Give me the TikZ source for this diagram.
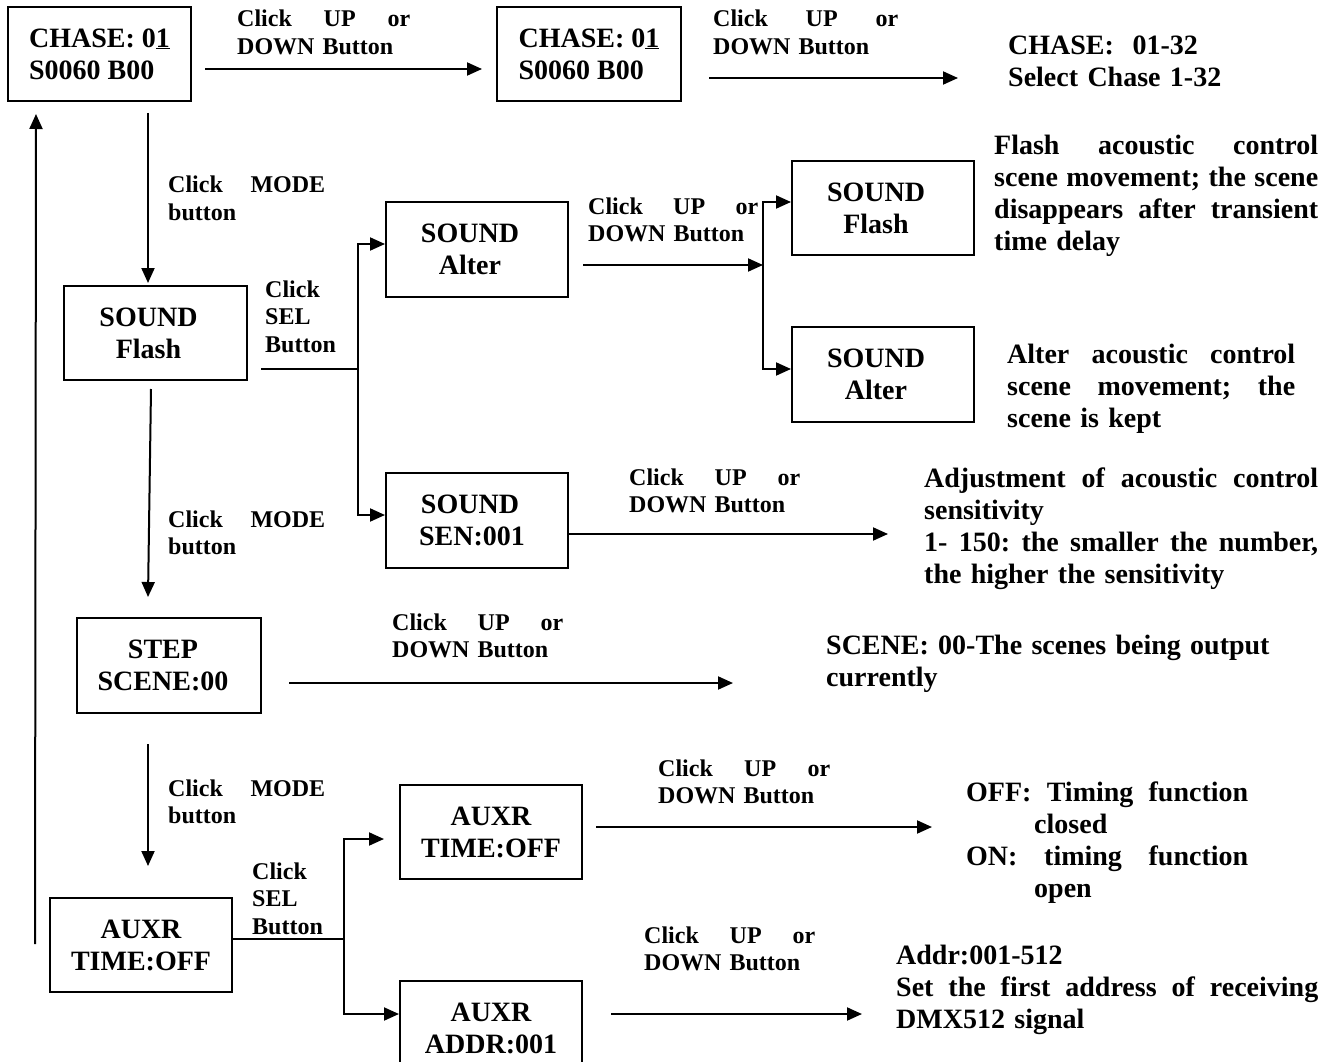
\documentclass[tikz,border=0pt]{standalone}
\usepackage{fontspec}
\setmainfont{Liberation Serif}
\usetikzlibrary{arrows.meta,calc}
\newcommand{\gap}{\nobreak\hfill\nobreak\hspace{5pt}\nobreak}
\hyphenpenalty=10000
\exhyphenpenalty=10000
\begin{document}
\begin{tikzpicture}[x=1pt,y=-1pt,
  box/.style={draw, line width=2pt, minimum width=182pt, minimum height=95pt, inner sep=0pt,
    font=\fontsize{28}{32}\selectfont\bfseries, align=center},
  lbl/.style={anchor=base west, inner sep=0pt, font=\fontsize{24}{27.5}\selectfont\bfseries, align=left},
  desc/.style={anchor=base west, inner sep=0pt, font=\fontsize{28}{32}\selectfont\bfseries, align=left},
  arr/.style={-{Triangle[length=15pt,width=13pt]}, line width=2pt},
  ln/.style={line width=2pt}]
\useasboundingbox (0,0) rectangle (1336,1062);
\clip (0,0) rectangle (1336,1062);

% boxes
\node[box, minimum width=183pt, minimum height=94pt, align=left] (c1) at (99.5,54) {CHASE:~0\underline{1}\\S0060 B00};
\node[box, minimum width=184pt, minimum height=94pt, align=left] (c2) at (589,54) {CHASE:~0\underline{1}\\S0060 B00};
\node[box, minimum width=183pt, minimum height=94pt] (sf) at (155.5,333) {SOUND\hspace*{14pt}\\Flash\hspace*{14pt}};
\node[box] (sa) at (477,249.5) {SOUND\hspace*{14pt}\\Alter\hspace*{14pt}};
\node[box, minimum height=94pt] (sf2) at (883,208) {SOUND\hspace*{14pt}\\Flash\hspace*{14pt}};
\node[box] (sa2) at (883,374.5) {SOUND\hspace*{14pt}\\Alter\hspace*{14pt}};
\node[box] (sen) at (477,520) {SOUND\hspace*{14pt}\\SEN:001\hspace*{10pt}};
\node[box, minimum width=184pt] (step) at (169,665.5) {STEP\hspace*{12pt}\\SCENE:00\hspace*{12pt}};
\node[box, minimum height=94pt] (ax1) at (141,945) {AUXR\\TIME:OFF};
\node[box, minimum height=94pt] (ax2) at (491,832) {AUXR\\TIME:OFF};
\node[box] (ad) at (491,1028.5) {AUXR\\ADDR:001};

% labels
\node[lbl, text width=173pt] (l1) at (237,27) {Click \hfill UP \hfill or\\DOWN Button};
\node[lbl, text width=185pt] (l2) at (713,27) {Click \hfill UP \hfill or\\DOWN Button};
\node[lbl, text width=157pt] (lm1) at (168,193) {Click \hfill MODE\\button};
\node[lbl, text width=90pt] (ls1) at (265,297) {Click\\SEL\\Button};
\node[lbl, text width=170pt] (lsa) at (588,214) {Click \hfill UP \hfill or\\DOWN Button};
\node[lbl, text width=157pt] (lm2) at (168,527) {Click \hfill MODE\\button};
\node[lbl, text width=171pt] (lsen) at (629,485) {Click \hfill UP \hfill or\\DOWN Button};
\node[lbl, text width=171pt] (lstep) at (392,630) {Click \hfill UP \hfill or\\DOWN Button};
\node[lbl, text width=157pt] (lm3) at (168,796) {Click \hfill MODE\\button};
\node[lbl, text width=90pt] (ls2) at (252,879) {Click\\SEL\\Button};
\node[lbl, text width=172pt] (lax) at (658,776) {Click \hfill UP \hfill or\\DOWN Button};
\node[lbl, text width=171pt] (lad) at (644,943) {Click \hfill UP \hfill or\\DOWN Button};

% descriptions
\node[desc, text width=240pt] (dchase) at (1008,55) {CHASE:~~01-32\\Select Chase 1-32};
\node[desc, text width=324pt] (dflash) at (994,155) {Flash\gap acoustic\gap control\\scene\gap movement;\gap the\gap scene\\disappears\gap after\gap transient\\time delay};
\node[desc, text width=288pt] (dalter) at (1007,363) {Alter\gap acoustic\gap control\\scene\gap movement;\gap the\\scene is kept};
\node[desc, text width=394pt] (dsen) at (924,487) {Adjustment\gap of\gap acoustic\gap control\\sensitivity\\1-\gap 150:\gap the\gap smaller\gap the\gap number,\\the higher the sensitivity};
\node[desc, text width=460pt] (dstep) at (826,654) {SCENE: 00-The scenes being output\\currently};
\node[desc, text width=282pt] (dtime) at (966,801) {OFF:\gap Timing\gap function\\\hspace*{68pt}closed\\ON:\gap timing\gap function\\\hspace*{68pt}open};
\node[desc, text width=422pt] (daddr) at (896,964) {Addr:001-512\\Set\gap the\gap first\gap address\gap of\gap receiving\\DMX512 signal};

% connectors
\draw[arr] ($(c1.east)+(13,15)$) -- ($(c2.west)+(-14,15)$);
\coordinate (e2) at (958,78);
\draw[arr] ($(c2.east)+(27,24)$) -- (e2);
\draw[arr] ($(c1.south)+(48.5,11)$) -- ($(sf.north)+(-7.5,-2)$);
\draw[arr] ($(ax1.west)+(-14,-1)$) -- ($(c1.south)+(-63.5,12)$);
\draw[arr] ($(sf.south)+(-4.5,8)$) -- ($(step.north)+(-21,-20)$);
\draw[arr] ($(step.south)+(-21,30)$) -- ($(ax1.north)+(7,-31)$);

\coordinate (j1) at (358,369);
\draw[ln] ($(sf.east)+(13,36)$) -- (j1);
\draw[arr] (j1) |- ($(sa.west)+(0,-5.5)$);
\draw[arr] (j1) |- ($(sen.west)+(0,-5)$);

\coordinate (j2) at (763,265);
\draw[arr] ($(sa.east)+(14,15.5)$) -- (j2);
\draw[arr] (j2) |- ($(sf2.west)+(0,-6)$);
\draw[arr] (j2) |- ($(sa2.west)+(0,-5.5)$);

\coordinate (e3) at (888,534);
\draw[arr] ($(sen.east)+(0,14)$) -- (e3);
\coordinate (e4) at (733,683);
\draw[arr] ($(step.east)+(27,17.5)$) -- (e4);

\coordinate (j3) at (344,939);
\draw[ln] ($(ax1.east)+(0,-6)$) -- (j3);
\draw[arr] (j3) |- ($(ax2.west)+(-15,7)$);
\draw[arr] (j3) |- ($(ad.west)+(0,-14.5)$);

\coordinate (e5) at (932,827);
\draw[arr] ($(ax2.east)+(13,-5)$) -- (e5);
\coordinate (e6) at (862,1014);
\draw[arr] ($(ad.east)+(28,-14.5)$) -- (e6);
\end{tikzpicture}
\end{document}
